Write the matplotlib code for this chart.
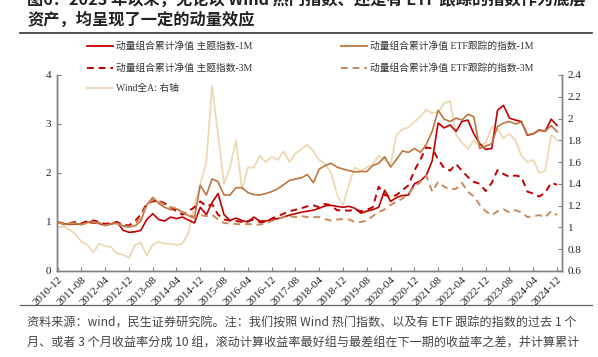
import matplotlib
matplotlib.use('Agg')
import matplotlib.pyplot as plt
from matplotlib.lines import Line2D
import matplotlib.dates as mdates
import pandas as pd

# bi-monthly points, 2010-12 .. 2024-12
dates = pd.date_range('2010-12-01', '2024-12-01', freq='2MS')

theme_1m = [1.00,
            0.96, 0.95, 0.96, 0.95, 1.00, 0.98,
            0.97, 0.93, 0.96, 1.00, 0.83, 0.79,
            0.80, 0.83, 1.05, 1.17, 1.05, 1.02,
            1.10, 1.07, 1.10, 1.04, 0.98, 1.30,
            1.15, 1.40, 1.58, 1.15, 1.03, 1.08,
            1.03, 1.00, 1.10, 1.02, 1.02, 1.05,
            1.07, 1.10, 1.14, 1.17, 1.20, 1.22,
            1.24, 1.28, 1.33, 1.34, 1.32, 1.30,
            1.32, 1.28, 1.18, 1.22, 1.25, 1.30,
            1.65, 1.42, 1.50, 1.54, 1.55, 1.78,
            1.84, 1.95, 2.25, 3.02, 2.92, 2.98,
            2.85, 3.05, 3.08, 2.80, 2.60, 2.48,
            2.50, 3.28, 3.38, 3.12, 3.08, 3.05,
            2.77, 2.80, 2.88, 2.85, 3.10, 2.97]

etf_1m = [1.00,
          0.95, 0.96, 0.97, 0.95, 0.99, 1.02,
          0.98, 0.95, 0.96, 0.98, 0.92, 0.90,
          0.92, 1.02, 1.35, 1.50, 1.38, 1.30,
          1.25, 1.27, 1.20, 1.13, 1.08, 1.75,
          1.55, 1.88, 1.82, 1.55, 1.55, 1.70,
          1.70, 1.60, 1.56, 1.55, 1.58, 1.62,
          1.68, 1.76, 1.85, 1.88, 1.90, 1.97,
          1.80, 2.08, 2.15, 2.20, 2.12, 2.08,
          2.05, 2.02, 2.03, 2.03, 2.15, 2.20,
          2.33, 2.12, 2.28, 2.45, 2.42, 2.50,
          2.42, 2.58, 2.85, 3.28, 3.10, 3.05,
          3.12, 3.08, 3.20, 3.15, 2.50, 2.55,
          2.60, 2.95, 3.02, 3.05, 3.00, 3.04,
          2.78, 2.80, 2.87, 2.85, 2.97, 2.84]

theme_3m = [1.00,
            0.97, 0.98, 1.00, 0.97, 1.02, 1.03,
            1.00, 0.96, 0.98, 1.00, 0.94, 0.93,
            1.02, 1.15, 1.38, 1.42, 1.44, 1.38,
            1.30, 1.22, 1.15, 1.22, 1.30, 1.42,
            1.32, 1.36, 1.15, 1.05, 1.03, 1.02,
            1.00, 1.02, 1.05, 1.00, 1.00, 1.07,
            1.12, 1.17, 1.22, 1.25, 1.28, 1.32,
            1.34, 1.30, 1.37, 1.34, 1.24, 1.24,
            1.23, 1.26, 1.22, 1.25, 1.30, 1.72,
            1.55, 1.52, 1.55, 1.65, 1.75, 2.05,
            2.28, 2.52, 2.50, 2.28, 2.10, 2.05,
            2.18, 2.05, 1.92, 1.82, 1.78, 1.63,
            1.80, 2.06, 1.98, 1.92, 1.95, 1.92,
            1.62, 1.58, 1.52, 1.60, 1.80, 1.76]

etf_3m = [1.00,
          0.96, 0.98, 0.97, 0.95, 0.98, 1.00,
          0.97, 0.93, 0.96, 0.97, 0.92, 0.90,
          0.95, 1.10, 1.35, 1.45, 1.42, 1.35,
          1.30, 1.28, 1.20, 1.15, 1.10, 1.14,
          1.12, 1.15, 1.05, 0.98, 0.97, 0.96,
          0.95, 0.96, 0.94, 0.95, 0.98, 1.02,
          1.06, 1.10, 1.12, 1.10, 1.12, 1.10,
          1.10, 1.10, 1.06, 1.03, 1.05, 1.06,
          1.05, 1.00, 1.00, 1.03, 1.12, 1.20,
          1.26, 1.35, 1.41, 1.48, 1.58, 1.72,
          1.82, 1.95, 1.62, 1.82, 1.72, 1.66,
          1.68, 1.80, 1.62, 1.52, 1.35, 1.22,
          1.14, 1.22, 1.26, 1.20, 1.24, 1.20,
          1.10, 1.12, 1.14, 1.10, 1.22, 1.14]

wind_a = [1.00,
          1.01, 0.98, 0.94, 0.87, 0.84, 0.77,
          0.85, 0.83, 0.82, 0.76, 0.75, 0.72,
          0.84, 0.86, 0.74, 0.84, 0.87, 0.85,
          0.85, 0.84, 0.85, 0.95, 1.20, 1.40,
          1.60, 2.30, 1.85, 1.40, 1.55, 1.80,
          1.35, 1.55, 1.55, 1.66, 1.60, 1.65,
          1.62, 1.70, 1.60, 1.68, 1.72, 1.76,
          1.70, 1.62, 1.58, 1.50, 1.30, 1.20,
          1.40, 1.55, 1.52, 1.55, 1.58, 1.66,
          1.62, 1.58, 1.85, 1.90, 1.92, 1.97,
          2.02, 2.08, 2.05, 2.06, 2.14, 2.16,
          1.85, 1.78, 1.72, 1.80, 1.75, 1.78,
          1.92, 1.90, 1.82, 1.86, 1.80, 1.66,
          1.60, 1.62, 1.50, 1.52, 1.85, 1.80]

labels = ['动量组合累计净值 主题指数-1M', '动量组合累计净值 ETF跟踪的指数-1M',
          '动量组合累计净值 主题指数-3M', '动量组合累计净值 ETF跟踪的指数-3M',
          'Wind全A: 右轴']

c_red = '#C00000'
c_brown = '#BE7640'
c_brown2 = '#C98A5C'
c_tan = '#EED8B2'

plt.rcParams['font.family'] = ['Liberation Serif', 'Noto Sans CJK SC']
cjk = ['Noto Sans CJK SC', 'DejaVu Sans']

W, H = 598, 357
fig = plt.figure(figsize=(W / 100, H / 100), dpi=100)
ax = fig.add_axes([57 / W, 1 - 271 / H, (562 - 57) / W, (271 - 75) / H])
ax2 = ax.twinx()
ax.set_zorder(ax2.get_zorder() + 1)
ax.patch.set_visible(False)

ax2.plot(dates, wind_a, color=c_tan, lw=1.3)
ax.plot(dates, theme_1m, color=c_red, lw=1.2)
ax.plot(dates, etf_1m, color=c_brown, lw=1.2)
ax.plot(dates, theme_3m, color=c_red, lw=1.4, dashes=(3.5, 2.5))
ax.plot(dates, etf_3m, color=c_brown2, lw=1.4, dashes=(3.5, 2.5))

ax.set_xlim(pd.Timestamp('2010-11-25'), pd.Timestamp('2025-01-20'))
ax.set_ylim(0, 4)
ax.set_yticks([0, 1, 2, 3, 4])
ax2.set_ylim(0.6, 2.4)
rticks = [0.6, 0.8, 1.0, 1.2, 1.4, 1.6, 1.8, 2.0, 2.2, 2.4]
ax2.set_yticks(rticks)
ax2.set_yticklabels([f'{v:g}' for v in rticks])

xt = pd.date_range('2010-12-01', '2024-12-01', freq='8MS')
ax.set_xticks(xt)
ax.set_xticklabels([d.strftime('%Y-%m') for d in xt], rotation=45, ha='right',
                   rotation_mode='anchor')

for a in (ax, ax2):
    for s in a.spines.values():
        s.set_color('#808080')
        s.set_linewidth(1.0)
    a.spines['top'].set_visible(False)
    a.tick_params(direction='in', length=3, width=0.8, color='#808080',
                  labelsize=8, labelcolor='#222222', pad=4)
ax.tick_params(axis='x', pad=3)

# legend, drawn by hand to sit where the original puts it
def leg(x0, y, color, text, dashed=False):
    kw = dict(dashes=(3.5, 2.5), lw=1.4) if dashed else dict(lw=1.3)
    fig.add_artist(Line2D([x0 / W, (x0 + 26) / W], [1 - y / H, 1 - y / H],
                          color=color, transform=fig.transFigure, **kw))
    fig.text((x0 + 29) / W, 1 - y / H, text, fontsize=7, va='center',
             color='#333333')

leg(87, 46, c_red, labels[0])
leg(87, 68, c_red, labels[2], dashed=True)
leg(87, 88, c_tan, labels[4])
leg(341, 46, c_brown, labels[1])
leg(341, 68, c_brown2, labels[3], dashed=True)

# title, rules and source note
fig.text(27 / W, 1 - 0 / H,
         '图6：2023 年以来，无论以 Wind 热门指数、还是有 ETF 跟踪的指数作为底层',
         family=cjk, fontsize=11.7, weight='bold', color='#222222', va='center')
fig.text(27 / W, 1 - 20 / H, '资产，均呈现了一定的动量效应',
         family=cjk, fontsize=11.7, weight='bold', color='#222222', va='center')
fig.add_artist(Line2D([20 / W, 592 / W], [1 - 33 / H, 1 - 33 / H], color='#333333',
                      lw=1.2, transform=fig.transFigure))
fig.add_artist(Line2D([20 / W, 592 / W], [1 - 305 / H, 1 - 305 / H], color='#666666',
                      lw=0.9, transform=fig.transFigure))
fig.text(27 / W, 1 - 323 / H,
         '资料来源：wind，民生证券研究院。注：我们按照 Wind 热门指数、以及有 ETF 跟踪的指数的过去 1 个',
         family=cjk, fontsize=8.7, color='#444444', va='center')
fig.text(27 / W, 1 - 343 / H,
         '月、或者 3 个月收益率分成 10 组，滚动计算收益率最好组与最差组在下一期的收益率之差，并计算累计',
         family=cjk, fontsize=8.7, color='#444444', va='center')

fig.savefig('out.png', dpi=100)
